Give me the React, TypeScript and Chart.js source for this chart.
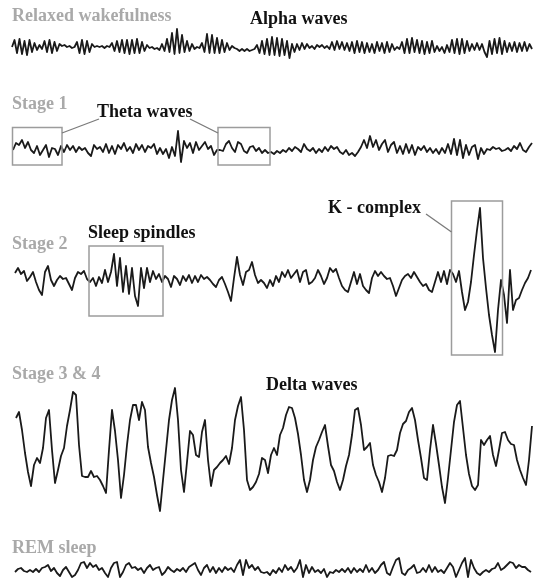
import React, { useEffect, useRef } from "react";
import { Chart, registerables } from "chart.js";

Chart.register(...registerables);

// ---- EEG samples (amplitude, px-like units, up = positive) ----
const ALPHA = [
  0, 7, -6, 8, -7, 6, -8, 7, -5, 4,
  -3, 2, -2, 6, -5, 7, -6, 5, -4, 3,
  1, 2, 0, 1, -1, 0, 5, -6, 7, -7,
  6, -5, 3, 0, 1, 0, 1, -1, 1, 0,
  4, -4, 6, -5, 7, -6, 7, -7, 7, -6,
  8, -6, 5, -4, 2, -1, 0, -2, -1, -3,
  3, -4, 8, -5, 14, -7, 18, -6, 12, -5,
  6, -4, 3, -2, 0, -1, 4, -5, 13, -6,
  12, -6, 9, -6, 7, -5, 4, -3, 1, -1,
  -2, -4, -2, -4, -2, -4, -3, -2, 2, -6,
  6, -7, 8, -8, 10, -8, 9, -9, 8, -8,
  6, -11, 3, -5, 3, -3, 4, -2, 3, -1,
  1, -2, 2, 0, 2, -1, 1, -2, 5, -3,
  6, -2, 5, -3, 4, -4, 5, -6, 6, -5,
  5, -6, 4, -5, 3, -6, 5, -4, 4, -6,
  5, -5, 3, -3, 0, -2, 5, -6, 8, -6,
  9, -5, 7, -6, 6, -7, 5, -6, 6, -5,
  1, -4, 0, -6, 2, -5, 7, -6, 8, -7,
  8, -6, 6, -4, 3, -3, 4, -3, 3, -5,
  -10, 6, -7, 8, -6, 9, -7, 6, -5, 4,
  -4, 5, -5, 4, -4, 5, -4, 3, -2,
];

const THETA = [
  0, 7, 5, 10, 2, 8, 0, -3, 4, -5,
  0, 5, -7, 2, 1, -5, 4, -2, 5, 0,
  4, -2, 3, 0, 2, -3, -6, 5, 1, 3,
  -2, 6, -3, 4, -4, 5, 1, 7, -1, 3,
  -3, 6, 0, 5, -2, 4, 2, 6, -4, 2,
  -4, 1, -8, 3, -6, 19, -12, 9, 2, 7,
  -3, 8, 0, 4, 8, 1, 4, -5, 0, 0,
  -1, 6, 9, 2, -2, 8, 6, -1, -3, 3,
  4, -1, 2, -3, 0, -3, -2, -4, -1, -3,
  0, -2, 2, -1, 3, 1, -2, 6, 1, -1,
  2, -3, 1, -2, 3, -1, 4, 1, 3, -2,
  -4, 0, -5, -3, -6, -2, 3, 10, 2, 14,
  3, 10, 0, 6, 10, -2, 5, 8, -3, 4,
  -4, 6, -3, 5, -5, 3, 0, 4, -2, 2,
  -3, 1, -4, 2, -3, 6, -4, 11, -5, 10,
  -8, 5, -5, 3, 5, -9, 2, -4, 1, 0,
  3, 1, 2, -1, 0, 2, -1, 4, 1, 7,
  0, -2, 3, 7,
];

const STAGE2 = [
  7, 12, 6, 9, -1, 3, 8, -2, -10, -15,
  8, 14, 0, -6, 0, 4, 1, 2, -4, -10,
  2, 8, 6, 9, 1, -2, 2, -6, 3, -3,
  10, -2, 8, 26, -6, 22, -12, 14, -14, 12,
  -16, -26, 12, -8, 12, -2, 9, 1, 6, -2,
  4, 1, -7, 4, 1, -5, 4, -1, 5, -3,
  4, -2, 5, 1, 3, 0, -4, -7, 0, 3,
  -4, -12, -21, 2, 23, 5, -5, 8, 10, 18,
  5, -3, 0, -3, -8, 0, -6, 4, -2, 8,
  3, 10, 2, 6, 10, -2, 8, 10, -4, -2,
  2, 10, 4, -4, 2, 12, 8, 11, 2, -6,
  -10, -12, -2, 8, -4, 6, -6, -10, -13, 2,
  9, 4, 8, 4, 1, 2, -6, -16, -8, 0,
  4, 6, 2, 8, 3, -2, -6, -4, -10, -12,
  -2, 8, -2, 9, -4, 10, 6, -2, 9, -12,
  -30, -22, -2, 25, 50, 72, 22, -8, -35, -55,
  -72, -30, 0, -15, -43, 10, -30, -20, -18, -10,
  -3, 2, 10,
];

const DELTA = [
  32, 38, 20, -3, -22, -36, -15, -8, -13, 2,
  32, 40, 0, -33, -20, -6, 2, 24, 40, 58,
  55, 5, -26, -27, -27, -21, -27, -26, -30, -36,
  -43, 0, 40, 19, -10, -48, -25, 5, 30, 45,
  45, 30, 48, 40, 3, -13, -27, -45, -61, -30,
  0, 30, 50, 62, 30, -20, -42, -12, 19, 15,
  -5, -7, 18, 30, -10, -36, -20, -17, -13, -10,
  -6, -14, 2, 30, 44, 53, 20, -30, -40, -37,
  -32, -24, -8, -10, -23, -5, 2, -5, 15, 22,
  35, 43, 42, 32, 16, -5, -30, -42, -30, -10,
  3, 10, 18, 25, 4, -15, -21, -32, -40, -30,
  -16, -5, 15, 40, 42, 25, 0, 3, 7, -15,
  -25, -32, -42, -28, -6, -5, -6, 0, 17, 26,
  29, 38, 42, 30, 10, -8, -28, -30, 0, 25,
  6, -15, -37, -53, -28, 0, 28, 45, 49, 22,
  -5, -24, -36, -40, -35, 10, 5, 10, 14, -5,
  -16, 0, 17, 18, 10, 6, 5, -10, -20, -28,
  -35, -10, 24,
];

const REM = [
  -2, 1, 2, -1, -2, 0, -2, 1, -2, 2,
  3, 5, -1, 2, -3, -6, 0, 3, -2, -7,
  -5, 0, 7, 8, 2, 7, 3, 5, 0, 2,
  -3, -7, 2, 7, 8, -7, -2, 5, 7, 2,
  3, 0, 2, -3, 2, 5, 0, 2, 3, -5,
  -2, 3, 0, -2, 1, -1, 2, -2, 3, 5,
  7, 0, -5, 2, 5, -2, 3, -3, 2, -2,
  3, 0, 2, -2, 5, 10, -5, 10, 2, 5,
  0, 3, -2, -3, -2, -5, 0, -3, 2, -2,
  5, 0, 3, -2, 2, 10, -7, 5, -3, 3,
  -2, 0, -3, 1, -7, -2, -3, 0, -2, 1,
  -2, 2, -3, 2, -2, 1, -2, 5, -2, 2,
  -3, 0, 5, 8, -3, -5, 3, 10, 12, -3,
  -5, 0, 2, 5, -3, -2, 2, -2, 5, -2,
  3, -2, 0, -3, 2, 7, 3, -7, 0, 7,
  12, -7, 10, 2, -3, -5, -2, 0, -2, 1,
  2, 7, 0, 2, 5, 8, 7, 2, 5, 3,
  3, 0, -2,
];

// sample timing per trace (x units)
const SAMPLE_START = [12, 13, 15, 16, 15];
const SAMPLE_STEP = [2.5, 3, 3, 3, 3];

// stage / wave labels
const STAGE_LABELS = ["Relaxed wakefulness", "Stage 1", "Stage 2", "Stage 3 & 4", "REM sleep"];
const WAVE_LABELS = ["Alpha waves", "Theta waves", "Sleep spindles", "K - complex", "Delta waves"];

// ---- layout (options only) ----
const W = 533;
const H = 581;
const PANEL_BASE = [47, 150, 280, 450, 570];
const AXES = ["y1", "y2", "y3", "y4", "y5"];

type Txt = { text: string; axis: string; x: number; y: number; gray: boolean };
const TEXTS: Txt[] = [
  { text: STAGE_LABELS[0], axis: "y1", x: 12, y: 26, gray: true },
  { text: WAVE_LABELS[0], axis: "y1", x: 250, y: 23, gray: false },
  { text: STAGE_LABELS[1], axis: "y2", x: 12, y: 41, gray: true },
  { text: WAVE_LABELS[1], axis: "y2", x: 97, y: 33, gray: false },
  { text: STAGE_LABELS[2], axis: "y3", x: 12, y: 31, gray: true },
  { text: WAVE_LABELS[2], axis: "y3", x: 88, y: 42, gray: false },
  { text: WAVE_LABELS[3], axis: "y3", x: 328, y: 67, gray: false },
  { text: STAGE_LABELS[3], axis: "y4", x: 12, y: 71, gray: true },
  { text: WAVE_LABELS[4], axis: "y4", x: 266, y: 60, gray: false },
  { text: STAGE_LABELS[4], axis: "y5", x: 12, y: 17, gray: true },
];

const BOXES = [
  { axis: "y2", x0: 12.5, x1: 62, y0: 22.5, y1: -15 },
  { axis: "y2", x0: 218, x1: 270, y0: 22.5, y1: -15 },
  { axis: "y3", x0: 89, x1: 163, y0: 34, y1: -36 },
  { axis: "y3", x0: 451.5, x1: 502.5, y0: 79, y1: -75 },
];

const LEADERS = [
  { axis: "y2", x0: 62, y0: 17, x1: 99, y1: 31 },
  { axis: "y2", x0: 190, y0: 31, x1: 218, y1: 17 },
  { axis: "y3", x0: 426, y0: 66, x1: 451.5, y1: 48 },
];

const annotationPlugin = {
  id: "eegAnnotations",
  afterDatasetsDraw(chart: any) {
    const ctx = chart.ctx as CanvasRenderingContext2D;
    const xs = chart.scales.x;
    ctx.save();
    ctx.strokeStyle = "#9c9c9c";
    ctx.lineWidth = 1.5;
    for (const b of BOXES) {
      const ys = chart.scales[b.axis];
      const px0 = xs.getPixelForValue(b.x0);
      const px1 = xs.getPixelForValue(b.x1);
      const py0 = ys.getPixelForValue(b.y0);
      const py1 = ys.getPixelForValue(b.y1);
      ctx.strokeRect(px0, py0, px1 - px0, py1 - py0);
    }
    ctx.strokeStyle = "#7a7a7a";
    ctx.lineWidth = 1.3;
    for (const l of LEADERS) {
      const ys = chart.scales[l.axis];
      ctx.beginPath();
      ctx.moveTo(xs.getPixelForValue(l.x0), ys.getPixelForValue(l.y0));
      ctx.lineTo(xs.getPixelForValue(l.x1), ys.getPixelForValue(l.y1));
      ctx.stroke();
    }
    ctx.textBaseline = "alphabetic";
    ctx.textAlign = "left";
    ctx.font = 'bold 18px "Liberation Serif", "DejaVu Serif", serif';
    for (const t of TEXTS) {
      const ys = chart.scales[t.axis];
      ctx.fillStyle = t.gray ? "#a9a9a9" : "#111111";
      ctx.fillText(t.text, xs.getPixelForValue(t.x), ys.getPixelForValue(t.y));
    }
    ctx.restore();
  },
};

const whiteBg = {
  id: "whiteBg",
  beforeDraw(chart: any) {
    const ctx = chart.ctx as CanvasRenderingContext2D;
    ctx.save();
    ctx.fillStyle = "#ffffff";
    ctx.fillRect(0, 0, chart.width, chart.height);
    ctx.restore();
  },
};

export default function App() {
  const ref = useRef<HTMLCanvasElement | null>(null);

  useEffect(() => {
    if (!ref.current) return;
    const series = [ALPHA, THETA, STAGE2, DELTA, REM];
    const datasets = series.map((vals, k) => ({
      label: STAGE_LABELS[k],
      data: vals.map((v, i) => ({ x: SAMPLE_START[k] + i * SAMPLE_STEP[k], y: v })),
      yAxisID: AXES[k],
      borderColor: "#1a1a1a",
      borderWidth: 1.8,
      borderJoinStyle: "round" as const,
      pointRadius: 0,
      tension: 0,
      fill: false,
      clip: false as any,
    }));
    const scales: any = {
      x: { type: "linear", display: false, min: 0, max: W },
    };
    AXES.forEach((id, k) => {
      scales[id] = {
        type: "linear",
        display: false,
        min: PANEL_BASE[k] - H,
        max: PANEL_BASE[k],
      };
    });
    const chart = new Chart(ref.current, {
      type: "line",
      data: { datasets },
      options: {
        animation: false,
        responsive: false,
        devicePixelRatio: 1,
        layout: { padding: 0 },
        plugins: {
          legend: { display: false },
          tooltip: { enabled: false },
          title: { display: false },
        },
        scales,
      },
      plugins: [whiteBg, annotationPlugin],
    });
    return () => chart.destroy();
  }, []);

  return (
    <div style={{ position: "absolute", left: 0, top: 0, width: W, height: H, background: "#fff" }}>
      <canvas ref={ref} width={W} height={H} style={{ display: "block" }} />
    </div>
  );
}
